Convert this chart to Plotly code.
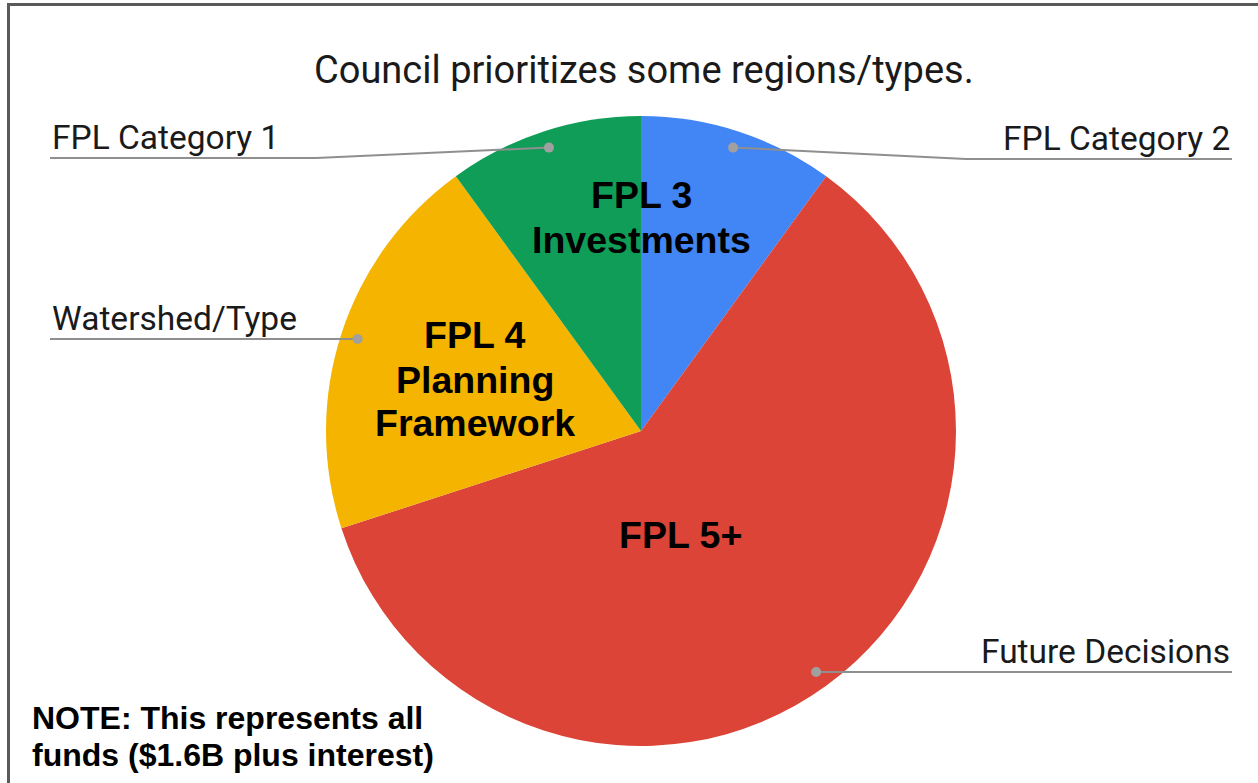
import math
import plotly.graph_objects as go

# ---- data ----
categories = ["FPL Category 2", "Future Decisions", "Watershed/Type", "FPL Category 1"]
values = [10, 60, 20, 10]
colors = ["#4285F4", "#DB4437", "#F4B400", "#0F9D58"]
title_text = "Council prioritizes some regions/types."
inner_labels = [
    ["FPL 3", "Investments"],
    ["FPL 4", "Planning", "Framework"],
    ["FPL 5+"],
]
note_lines = ["NOTE: This represents all", "funds ($1.6B plus interest)"]

# ---- layout constants (page pixels) ----
W, H = 1258, 783
CX, CY, R = 641, 431, 315
DOT_R = 0.946 * R
label_line_y = {"FPL Category 2": 159, "Future Decisions": 672,
                "Watershed/Type": 339, "FPL Category 1": 158}
LEFT_X, RIGHT_X = 50, 1232

fig = go.Figure()

fig.add_trace(go.Pie(
    labels=categories, values=values, sort=False, direction="clockwise",
    rotation=0, marker=dict(colors=colors, line=dict(width=0)),
    textinfo="none", hoverinfo="label+value", showlegend=False,
    domain=dict(x=[(CX - R) / W, (CX + R) / W],
                y=[1 - (CY + R) / H, 1 - (CY - R) / H]),
))

shapes = []
annotations = []
total = sum(values)
cum = 0
line_col = "#8f8f8f"
for cat, v in zip(categories, values):
    mid = (cum + v / 2) / total * 2 * math.pi
    cum += v
    dx, dy = CX + DOT_R * math.sin(mid), CY - DOT_R * math.cos(mid)
    ly = label_line_y[cat]
    right = math.sin(mid) > 0
    elbow_x = CX + (R + 10) * (1 if right else -1)
    end_x = RIGHT_X if right else LEFT_X
    if abs(ly - dy) > 3:
        path = f"M {dx},{dy} L {elbow_x},{ly} L {end_x},{ly}"
    else:
        path = f"M {dx},{ly} L {end_x},{ly}"
    shapes.append(dict(type="path", path=path, xref="x", yref="y",
                       line=dict(color=line_col, width=2), layer="above"))
    shapes.append(dict(type="circle", xref="x", yref="y", x0=dx - 5, x1=dx + 5,
                       y0=dy - 5, y1=dy + 5, fillcolor="#a0a0a0",
                       line=dict(width=0), layer="above"))
    annotations.append(dict(
        x=end_x, y=ly - 21, xref="x", yref="y", text=cat, showarrow=False,
        xanchor="right" if right else "left", yanchor="middle",
        font=dict(family="Roboto", size=33.5, color="#1a1a1a")))

# title
annotations.append(dict(x=644, y=70, xref="x", yref="y", text=title_text, showarrow=False,
                        xanchor="center", yanchor="middle",
                        font=dict(family="Roboto", size=38, color="#1a1a1a")))

# inner bold labels
inner_pos = [(641, [195, 240]), (475, [335, 380, 423]), (680, [535])]
for lines, (x, ys) in zip(inner_labels, inner_pos):
    for t, y in zip(lines, ys):
        annotations.append(dict(x=x, y=y, xref="x", yref="y", text=f"<b>{t}</b>",
                                showarrow=False, xanchor="center", yanchor="middle",
                                font=dict(family="Liberation Sans, Arial", size=37.5, color="#000000")))

# note
for t, y in zip(note_lines, [718, 755]):
    annotations.append(dict(x=30, y=y, xref="x", yref="y", text=f"<b>{t}</b>",
                            showarrow=False, xanchor="left", yanchor="middle",
                            font=dict(family="Liberation Sans, Arial", size=32, color="#000000")))

# frame border
shapes.append(dict(type="line", xref="x", yref="y", x0=7, x1=W, y0=4.5, y1=4.5,
                   line=dict(color="#5a5a5a", width=3), layer="above"))
shapes.append(dict(type="line", xref="x", yref="y", x0=8.5, x1=8.5, y0=3, y1=H,
                   line=dict(color="#5a5a5a", width=3), layer="above"))

fig.update_layout(
    width=W, height=H, autosize=False,
    margin=dict(l=0, r=0, t=0, b=0),
    paper_bgcolor="white", plot_bgcolor="rgba(0,0,0,0)",
    xaxis=dict(range=[0, W], visible=False, domain=[0, 1], fixedrange=True),
    yaxis=dict(range=[H, 0], visible=False, domain=[0, 1], fixedrange=True),
    shapes=shapes, annotations=annotations, showlegend=False,
)

fig.write_html("out.html", config={"displayModeBar": False},
               post_script="document.body.style.margin='0';document.body.style.overflow='hidden';")
